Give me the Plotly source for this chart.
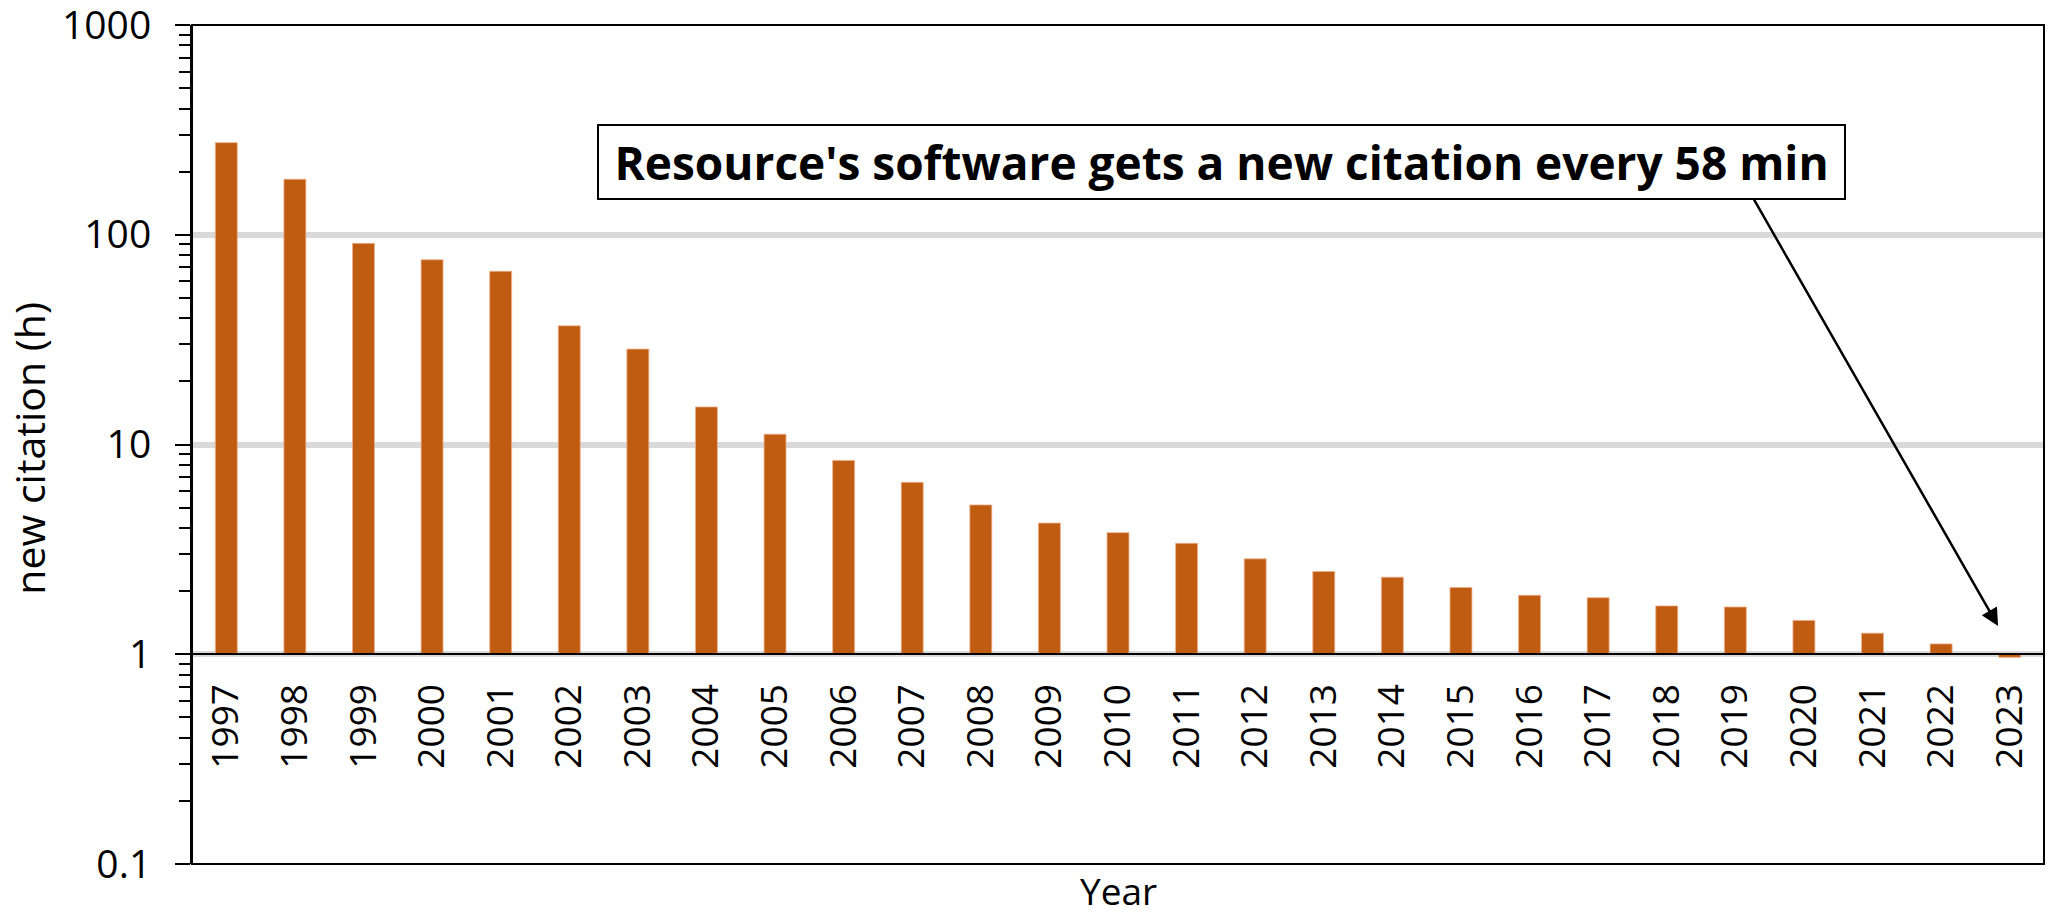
import plotly.graph_objects as go

# Mean time between new citations, in hours, per year
years = [str(y) for y in range(1997, 2024)]
hours = [275, 184, 91, 76, 67, 36.8, 28.5, 15.1, 11.2, 8.4, 6.6, 5.15, 4.22,
         3.8, 3.38, 2.85, 2.48, 2.33, 2.08, 1.91, 1.86, 1.70, 1.68, 1.45,
         1.26, 1.12, 58 / 60]

y_ticks = [0.1, 1, 10, 100, 1000]
y_ticktext = ["0.1", "1", "10", "100", "1000"]

note_text = "Resource's software gets a new citation every 58 min"

FONT = "Open Sans, Liberation Sans, sans-serif"
BASE = 1  # bars grow from the 1 h line

fig = go.Figure()
fig.add_trace(go.Bar(
    x=years,
    y=[h - BASE for h in hours],
    base=BASE,
    customdata=hours,
    hovertemplate="%{x}: %{customdata:.2f} h<extra></extra>",
    marker=dict(color="#c05b12", line=dict(color="#eeb08a", width=0.8)),
    width=0.32,
))

minor_vals = [m * 10 ** e for e in range(-1, 3) for m in range(2, 10)]

fig.update_layout(
    width=2053, height=916,
    margin=dict(l=192, r=9, t=25, b=52, autoexpand=False),
    paper_bgcolor="white", plot_bgcolor="white",
    showlegend=False,
    font=dict(family=FONT, color="black"),
    xaxis=dict(
        type="category",
        range=[-0.5, len(years) - 0.5],
        anchor="free", position=0.25,
        automargin=False,
        showline=True, linecolor="black", linewidth=2,
        showgrid=False, ticks="",
        tickangle=-90,
        tickfont=dict(size=37, family=FONT),
        ticklabelstandoff=14,
    ),
    yaxis=dict(
        type="log", range=[-1.0002, 3.0002], domain=[0, 1],
        automargin=False,
        tickvals=y_ticks, ticktext=y_ticktext,
        tickfont=dict(size=39, family=FONT),
        ticklabeloverflow="allow",
        showgrid=True, gridcolor="#d9d9d9", gridwidth=6,
        showline=True, linecolor="black", linewidth=2,
        ticks="outside", ticklen=15, tickwidth=2, tickcolor="black",
        ticklabelstandoff=16,
        minor=dict(tickvals=minor_vals, ticks="outside", ticklen=11,
                   tickwidth=2, tickcolor="black", showgrid=False),
        zeroline=False,
    ),
)

# plot frame
fig.add_shape(type="rect", xref="paper", yref="paper", x0=0, x1=1, y0=0, y1=1,
              line=dict(color="black", width=2), layer="above")

# axis titles
fig.add_annotation(text="new citation (h)", xref="paper", yref="paper",
                   x=0, y=0.495, xshift=-163, textangle=-90, showarrow=False,
                   font=dict(size=41, family=FONT), xanchor="center", yanchor="middle")
fig.add_annotation(text="Year", xref="paper", yref="paper",
                   x=0.5, y=-0.031, showarrow=False,
                   font=dict(size=37, family=FONT), xanchor="center", yanchor="middle")

# arrow pointing at the 2023 bar
fig.add_annotation(text="", xref="paper", yref="paper", x=0.9752, y=0.2837,
                   ax=-245, ay=-428, axref="pixel", ayref="pixel",
                   showarrow=True, arrowhead=2, arrowsize=1.4, arrowwidth=2.5,
                   arrowcolor="black", standoff=0)

# callout box
fig.add_annotation(text="<b>" + note_text + "</b>", xref="paper", yref="paper",
                   x=0.5559, y=0.8367, xanchor="center", yanchor="middle",
                   showarrow=False, width=1245, height=72,
                   bgcolor="white", bordercolor="black", borderwidth=2, borderpad=0,
                   font=dict(size=46, family=FONT, color="black"))

fig.write_html("out.html")
